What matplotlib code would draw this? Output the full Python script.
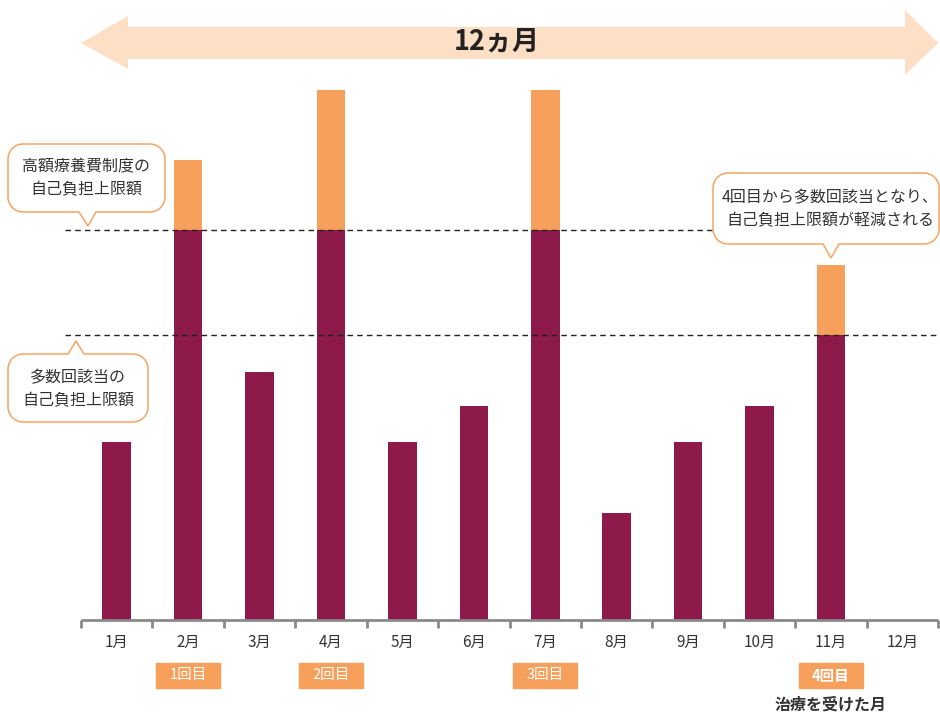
import numpy as np
import matplotlib
matplotlib.use("Agg")
import matplotlib.pyplot as plt
from matplotlib.patches import Polygon, Rectangle
from matplotlib.transforms import Affine2D

plt.rcParams['font.family'] = ['Noto Sans CJK JP', 'DejaVu Sans']

# データ（金額は相対値）
months = ['1月', '2月', '3月', '4月', '5月', '6月', '7月', '8月', '9月', '10月', '11月', '12月']
cost = [178, 460, 248, 530, 178, 214, 530, 107, 178, 214, 355, 0]
cap_normal = 390   # 高額療養費制度の自己負担上限額
cap_multi = 285    # 多数回該当の自己負担上限額
limit_used = [None, cap_normal, None, cap_normal, None, None, cap_normal, None, None, None, cap_multi, None]
count_labels = {2: '1回目', 4: '2回目', 7: '3回目', 11: '4回目'}

MAROON = '#8E1A4B'
ORANGE = '#F7A05B'
LIGHT = '#FDDFC5'
BORDER = '#F5A463'
TXT = '#333333'

W, H = 940, 712
fig = plt.figure(figsize=(W / 100, H / 100), dpi=100)
ax = fig.add_axes([0, 0, 1, 1])
ax.set_xlim(-0.634, 12.527)
ax.set_ylim(-92, 620)
ax.axis('off')

# ピクセル座標（左上原点）
px = Affine2D().scale(1, -1).translate(0, H) + Affine2D().scale(1 / W, 1 / H) + fig.transFigure

x = np.arange(1, len(months) + 1)
paid = [min(c, l) if l is not None else c for c, l in zip(cost, limit_used)]
over = [c - p for c, p in zip(cost, paid)]
ax.bar(x, paid, width=0.4, color=MAROON, zorder=2)
ax.bar(x, over, width=0.4, bottom=paid, color=ORANGE, zorder=2)

# 上限額の破線
for cap in [cap_normal, cap_multi]:
    ax.hlines(cap, 0.28, 12.5, colors='#222222', linestyles=(0, (4, 3)), linewidth=1.0, zorder=3)

# 軸線と目盛
ax.hlines(0, 0.5, 12.5, colors='#8a8a8a', linewidth=2)
ax.vlines(np.arange(0.5, 13, 1), -8, 0, colors='#8a8a8a', linewidth=2)
for xi, m in zip(x, months):
    ax.text(xi, -22, m, ha='center', va='center', fontsize=11, color=TXT)

# 回数ラベル
for xi, lab in count_labels.items():
    ax.add_patch(Rectangle((xi - 0.45, -68), 0.9, 25, color=ORANGE, zorder=2))
    ax.text(xi, -55.5, lab, ha='center', va='center', fontsize=10.5, color='white',
            fontweight='bold' if xi == 11 else 'normal', zorder=3)
ax.text(11, -84, '治療を受けた月', ha='center', va='center', fontsize=11.5,
        fontweight='bold', color=TXT)

# 12ヵ月の矢印
arrow = [(81, 43), (128, 16), (128, 27), (905, 27), (905, 10), (938, 43),
         (905, 75), (905, 59), (128, 59), (128, 69)]
fig.patches.append(Polygon(arrow, closed=True, facecolor=LIGHT, edgecolor='none', transform=px))
fig.text(497, 42, '12ヵ月', transform=px, ha='center', va='center', fontsize=19.5,
         fontweight='bold', color='#222222')


def bubble(x0, y0, x1, y1, side, b0, tip, b1, r=15):
    t = np.linspace(0, np.pi / 2, 10)
    pts = []
    cx, cy = x0 + r, y0 + r
    pts += list(zip(cx - r * np.cos(t), cy - r * np.sin(t)))
    if side == 'top':
        pts += [(b0, y0), tip, (b1, y0)]
    cx, cy = x1 - r, y0 + r
    pts += list(zip(cx + r * np.sin(t), cy - r * np.cos(t)))
    cx, cy = x1 - r, y1 - r
    pts += list(zip(cx + r * np.cos(t), cy + r * np.sin(t)))
    if side == 'bottom':
        pts += [(b1, y1), tip, (b0, y1)]
    cx, cy = x0 + r, y1 - r
    pts += list(zip(cx - r * np.sin(t), cy + r * np.cos(t)))
    fig.patches.append(Polygon(pts, closed=True, facecolor='white', edgecolor=BORDER,
                               linewidth=1.1, transform=px, zorder=5))


bubble(8, 144, 165, 212, 'bottom', 79, (88, 226), 96)
fig.text(86, 178, '高額療養費制度の\n自己負担上限額', transform=px, ha='center', va='center',
         fontsize=11.5, color=TXT, linespacing=1.45, zorder=6)

bubble(8, 354, 148, 422, 'top', 68, (76, 341), 84)
fig.text(78, 389, '多数回該当の\n自己負担上限額', transform=px, ha='center', va='center',
         fontsize=11.5, color=TXT, linespacing=1.45, zorder=6)

bubble(713, 173, 939, 244, 'bottom', 823, (831, 258), 839)
fig.text(830, 209, '4回目から多数回該当となり、\n自己負担上限額が軽減される', transform=px,
         ha='center', va='center', fontsize=11.5, color=TXT, linespacing=1.45, zorder=6)

fig.savefig('out.png', dpi=100)
